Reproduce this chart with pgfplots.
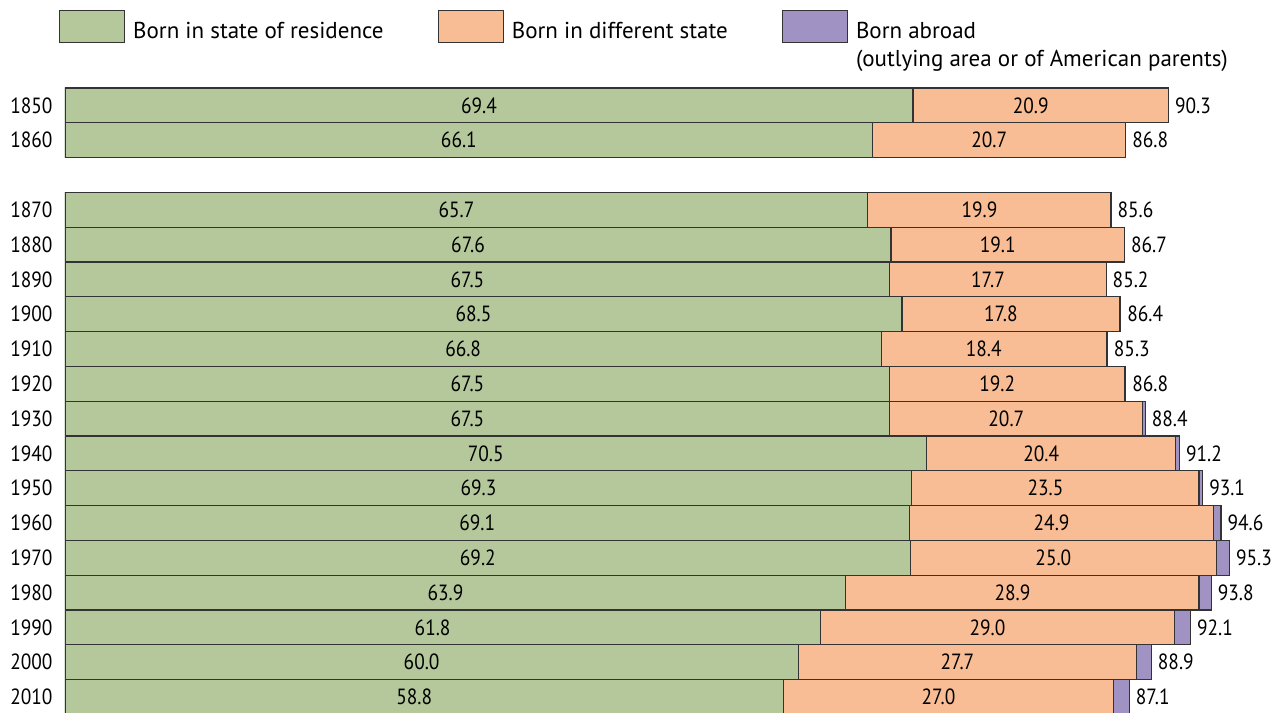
\documentclass[border=0pt]{standalone}
\usepackage{pgfplots}
\pgfplotsset{compat=1.18}
\usepackage{pgfplotstable}
\usepackage{fontspec}
\setmainfont{PT Sans}
\newfontfamily\numfont{PT Sans}[FakeStretch=0.88]

\definecolor{stategreen}{HTML}{B4C89B}
\definecolor{difforange}{HTML}{F9BD95}
\definecolor{abroadpurple}{HTML}{A092C2}
\definecolor{barline}{HTML}{333333}

% pos is the row position (gap left between 1860 and 1870)
\pgfplotstableread{
pos year state diff abroad total
0   1850 69.4 20.9 0.0 90.3
-1  1860 66.1 20.7 0.0 86.8
-3  1870 65.7 19.9 0.0 85.6
-4  1880 67.6 19.1 0.0 86.7
-5  1890 67.5 17.7 0.0 85.2
-6  1900 68.5 17.8 0.1 86.4
-7  1910 66.8 18.4 0.1 85.3
-8  1920 67.5 19.2 0.1 86.8
-9  1930 67.5 20.7 0.2 88.4
-10 1940 70.5 20.4 0.3 91.2
-11 1950 69.3 23.5 0.3 93.1
-12 1960 69.1 24.9 0.6 94.6
-13 1970 69.2 25.0 1.1 95.3
-14 1980 63.9 28.9 1.0 93.8
-15 1990 61.8 29.0 1.3 92.1
-16 2000 60.0 27.7 1.2 88.9
-17 2010 58.8 27.0 1.3 87.1
}\births

\pgfplotsset{
    frame/.style={
        scale only axis,
        width=1216pt, height=625pt,
        xmin=0, xmax=99.5,
        ymin=-17.46, ymax=0.5,
    },
}

\begin{document}
\begin{tikzpicture}
\begin{axis}[
    frame,
    name=main,
    xbar stacked,
    bar width=1,
    axis line style={draw=none},
    major tick length=0pt,
    xtick=\empty,
    ytick={0,-1,-3,-4,-5,-6,-7,-8,-9,-10,-11,-12,-13,-14,-15,-16,-17},
    yticklabels from table={\births}{year},
    yticklabel style={xshift=-9pt, font=\numfont\fontsize{22}{26}\selectfont},
    every axis plot/.append style={draw=barline, line width=1.2pt},
    legend columns=3,
    legend style={draw=none, fill=none, inner sep=0pt, outer sep=0pt,
        at={(0,1)}, anchor=south west, xshift=-6pt, yshift=45pt,
        font=\fontsize{23}{28}\selectfont,
        nodes={inner sep=0pt},
        /tikz/every odd column/.style={column sep=8pt},
        /tikz/every even column/.style={column sep=54pt}},
    legend cell align=left,
    legend image code/.code={\draw[#1] (0pt,-11pt) rectangle (65pt,21pt);},
    mid label/.style={
        nodes near coords,
        point meta=explicit symbolic,
        every node near coord/.append style={anchor=center, text=black,
            xshift=-10pt, font=\numfont\fontsize{22}{26}\selectfont}},
]
\addplot[fill=stategreen, mid label] table[x=state, y=pos, meta=state] {\births};
\addlegendentry{Born in state of residence}
\addplot[fill=difforange, mid label] table[x=diff, y=pos, meta=diff] {\births};
\addlegendentry{Born in different state}
\addplot[fill=abroadpurple] table[x=abroad, y=pos] {\births};
\addlegendentry{\rlap{\raisebox{-28pt}[0pt][0pt]{(outlying area or of American parents)}}Born abroad}
\end{axis}
% totals to the right of each bar
\begin{axis}[
    frame,
    hide axis,
    clip=false,
]
\addplot[draw=none, mark=none, nodes near coords, point meta=explicit symbolic,
    every node near coord/.append style={anchor=west, text=black, xshift=3pt,
        font=\numfont\fontsize{22}{26}\selectfont}]
    table[x=total, y=pos, meta=total] {\births};
\end{axis}
\path (main.south west) ++(-65pt,0pt) rectangle ++(1281pt,713pt);
\end{tikzpicture}
\end{document}
